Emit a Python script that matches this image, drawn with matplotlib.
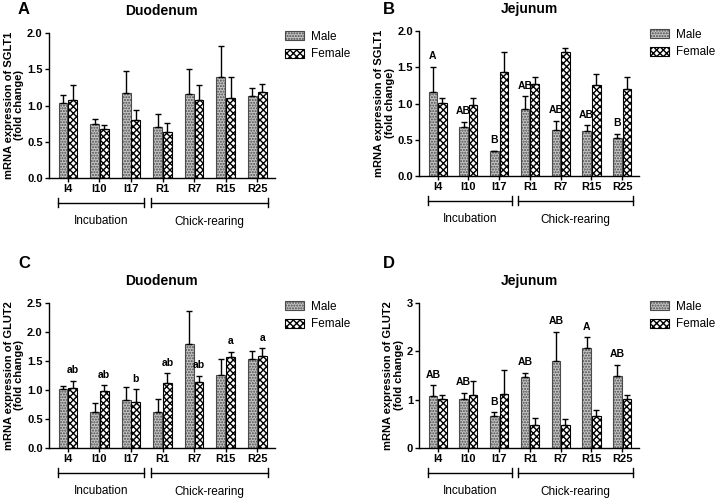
import matplotlib.pyplot as plt
import matplotlib.transforms as mtransforms
from matplotlib.patches import Patch
import numpy as np

# data definition
days = ['I4', 'I10', 'I17', 'R1', 'R7', 'R15', 'R25']

a_male = [1.03, 0.75, 1.17, 0.70, 1.16, 1.40, 1.13]
a_male_err = [0.12, 0.06, 0.30, 0.18, 0.35, 0.42, 0.11]
a_female = [1.08, 0.67, 0.80, 0.63, 1.07, 1.11, 1.19]
a_female_err = [0.20, 0.06, 0.14, 0.13, 0.21, 0.29, 0.11]

b_male = [1.16, 0.68, 0.34, 0.92, 0.63, 0.62, 0.53]
b_male_err = [0.35, 0.07, 0.01, 0.18, 0.13, 0.08, 0.05]
b_female = [1.01, 0.98, 1.43, 1.27, 1.71, 1.26, 1.20]
b_female_err = [0.06, 0.10, 0.28, 0.09, 0.05, 0.15, 0.17]
b_letters = ['A', 'AB', 'B', 'AB', 'AB', 'AB', 'B']

c_male = [1.01, 0.62, 0.82, 0.62, 1.80, 1.26, 1.54]
c_male_err = [0.06, 0.16, 0.23, 0.23, 0.56, 0.27, 0.13]
c_female = [1.03, 0.99, 0.80, 1.12, 1.14, 1.57, 1.59]
c_female_err = [0.13, 0.09, 0.21, 0.17, 0.11, 0.09, 0.13]
c_letters = ['ab', 'ab', 'b', 'ab', 'ab', 'a', 'a']

d_male = [1.08, 1.02, 0.66, 1.46, 1.80, 2.07, 1.48]
d_male_err = [0.22, 0.12, 0.08, 0.10, 0.61, 0.22, 0.24]
d_female = [1.02, 1.10, 1.12, 0.48, 0.48, 0.66, 1.01]
d_female_err = [0.07, 0.29, 0.49, 0.14, 0.13, 0.12, 0.09]
d_letters = ['AB', 'AB', 'B', 'AB', 'AB', 'A', 'AB']

plt.rcParams['font.family'] = ['Liberation Sans', 'DejaVu Sans']
plt.rcParams['hatch.linewidth'] = 1.0

fig = plt.figure(figsize=(7.19, 5), dpi=100)

# panel positions [left, bottom, width, height]
boxes = {
    'A': [0.068, 0.644, 0.314, 0.290],
    'B': [0.583, 0.648, 0.306, 0.290],
    'C': [0.068, 0.104, 0.314, 0.290],
    'D': [0.583, 0.104, 0.306, 0.290],
}

panels = [
    ('A', 'Duodenum', 'SGLT1', a_male, a_male_err, a_female, a_female_err, None, None, 2.0, 0.5),
    ('B', 'Jejunum', 'SGLT1', b_male, b_male_err, b_female, b_female_err, b_letters, 'male', 2.0, 0.5),
    ('C', 'Duodenum', 'GLUT2', c_male, c_male_err, c_female, c_female_err, c_letters, 'female', 2.5, 0.5),
    ('D', 'Jejunum', 'GLUT2', d_male, d_male_err, d_female, d_female_err, d_letters, 'male', 3.0, 1.0),
]

x = np.arange(len(days))
w = 0.28
off = 0.155
male_style = dict(facecolor='#c4c4c4', edgecolor='#4a4a4a', hatch='......', linewidth=0.8)
female_style = dict(facecolor='white', edgecolor='black', hatch='xxxxx', linewidth=0.8)

for key, title, gene, m, me, f, fe, letters, over, ymax, step in panels:
    ax = fig.add_axes(boxes[key])
    ax.bar(x - off, m, width=w, **male_style, zorder=2)
    ax.bar(x + off, f, width=w, **female_style, zorder=2)
    ax.errorbar(x - off, m, yerr=[np.zeros(len(m)), me], fmt='none',
                ecolor='black', elinewidth=1, capsize=2.5, capthick=1, zorder=3)
    ax.errorbar(x + off, f, yerr=[np.zeros(len(f)), fe], fmt='none',
                ecolor='black', elinewidth=1, capsize=2.5, capthick=1, zorder=3)

    if letters is not None:
        vals, errs, xs = (m, me, x - off) if over == 'male' else (f, fe, x + off)
        for xi, v, e, lab in zip(xs, vals, errs, letters):
            ax.annotate(lab, (xi, v + e), xytext=(0, 4), textcoords='offset points',
                        ha='center', va='bottom', fontsize=7.5, fontweight='bold')

    ticks = np.arange(0, ymax + 0.001, step)
    ax.set_xlim(-0.6, 6.55)
    ax.set_ylim(0, ymax)
    ax.set_yticks(ticks)
    if step < 1:
        ax.set_yticklabels([f'{t:.1f}' for t in ticks])
    else:
        ax.set_yticklabels([f'{int(t)}' for t in ticks])
    ax.set_xticks(x)
    ax.set_xticklabels(days)
    ax.tick_params(labelsize=8, width=1, length=3, direction='out', pad=1.5)
    for lab in ax.get_xticklabels() + ax.get_yticklabels():
        lab.set_fontweight('bold')
    for s in ['top', 'right']:
        ax.spines[s].set_visible(False)
    for s in ['left', 'bottom']:
        ax.spines[s].set_linewidth(1)

    ax.set_ylabel(f'mRNA expression of {gene}\n(fold change)', fontsize=8,
                  fontweight='bold', labelpad=2, linespacing=1.05)
    ax.set_title(title, fontsize=10, fontweight='bold', pad=13)

    # group brackets below the axis
    trans = mtransforms.blended_transform_factory(ax.transData, ax.transAxes)
    for x0, x1, name in [(-0.3, 2.42, 'Incubation'), (2.62, 6.35, 'Chick-rearing')]:
        ax.plot([x0, x1], [-0.17, -0.17], color='black', lw=1, transform=trans, clip_on=False)
        for xe in (x0, x1):
            ax.plot([xe, xe], [-0.14, -0.20], color='black', lw=1, transform=trans, clip_on=False)
        ax.text((x0 + x1) / 2, -0.30, name, transform=trans, ha='center', va='center', fontsize=8.5)

    handles = [Patch(label='Male', **male_style), Patch(label='Female', **female_style)]
    ax.legend(handles=handles, loc='upper left', bbox_to_anchor=(1.0, 1.09), frameon=False,
              fontsize=8.5, handlelength=1.6, handleheight=0.9, labelspacing=0.5,
              handletextpad=0.6)

# panel letters
fig.text(0.025, 0.98, 'A', fontsize=12, fontweight='bold', va='center')
fig.text(0.532, 0.98, 'B', fontsize=12, fontweight='bold', va='center')
fig.text(0.025, 0.474, 'C', fontsize=12, fontweight='bold', va='center')
fig.text(0.532, 0.474, 'D', fontsize=12, fontweight='bold', va='center')

plt.savefig('out.png', dpi=100)
